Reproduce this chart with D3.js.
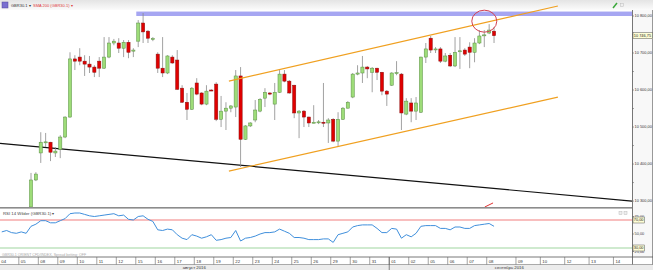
<!DOCTYPE html>
<html>
<head>
<meta charset="utf-8">
<script src="https://cdn.jsdelivr.net/npm/d3@7"></script>
<style>
  body { margin: 0; background: #fff; }
  svg { display: block; font-family: 'Liberation Sans', Arial, sans-serif; }
</style>
</head>
<body>
<svg id="chart"></svg>
<script>
// bars are [open, high, low, close]; the first visible bar sits in slot 6,
// the earlier ones are below the visible price range
const firstSlot = 6;
const candles = [
  [10284, 10376, 10276, 10357], [10357, 10378, 10354, 10373],
  [10430, 10486, 10403, 10459], [10459, 10484, 10446, 10460], [10459, 10460, 10408, 10432], [10430, 10446, 10419, 10435],
  [10440, 10478, 10416, 10473], [10473, 10529, 10470, 10527], [10527, 10702, 10525, 10684], [10684, 10694, 10654, 10678],
  [10689, 10713, 10667, 10678], [10678, 10694, 10638, 10670], [10670, 10692, 10646, 10662], [10662, 10667, 10635, 10648],
  [10678, 10689, 10635, 10659], [10659, 10743, 10657, 10689], [10689, 10743, 10686, 10727], [10727, 10738, 10721, 10732],
  [10727, 10740, 10700, 10713], [10713, 10735, 10689, 10729], [10729, 10735, 10686, 10702], [10705, 10713, 10689, 10708],
  [10732, 10789, 10716, 10781], [10781, 10808, 10727, 10757], [10759, 10762, 10727, 10740], [10737, 10743, 10732, 10739],
  [10697, 10702, 10646, 10659], [10659, 10743, 10635, 10646], [10646, 10694, 10643, 10692], [10689, 10694, 10671, 10673],
  [10681, 10708, 10600, 10602], [10605, 10613, 10565, 10567], [10567, 10592, 10519, 10548], [10548, 10608, 10546, 10605],
  [10619, 10632, 10586, 10589], [10592, 10594, 10559, 10562], [10562, 10613, 10559, 10597], [10600, 10602, 10597, 10599],
  [10616, 10621, 10516, 10521], [10521, 10584, 10500, 10543], [10543, 10567, 10492, 10551], [10551, 10559, 10540, 10557],
  [10554, 10654, 10527, 10638], [10638, 10662, 10392, 10467], [10467, 10505, 10465, 10503], [10503, 10513, 10500, 10511],
  [10519, 10573, 10513, 10546], [10543, 10578, 10540, 10575], [10578, 10605, 10554, 10594], [10592, 10594, 10586, 10589],
  [10562, 10619, 10519, 10594], [10594, 10654, 10592, 10643], [10643, 10654, 10621, 10624], [10624, 10627, 10590, 10592],
  [10613, 10614, 10524, 10538], [10538, 10546, 10470, 10543], [10543, 10546, 10500, 10527], [10527, 10528, 10500, 10511],
  [10512, 10559, 10510, 10513], [10513, 10519, 10508, 10514], [10513, 10619, 10500, 10511], [10511, 10524, 10457, 10519],
  [10521, 10524, 10459, 10462], [10462, 10540, 10446, 10521], [10521, 10554, 10519, 10551], [10551, 10570, 10550, 10567],
  [10581, 10646, 10578, 10643], [10643, 10667, 10640, 10646], [10646, 10692, 10619, 10662], [10662, 10665, 10632, 10657],
  [10648, 10662, 10594, 10659], [10659, 10660, 10627, 10648], [10648, 10649, 10586, 10597], [10597, 10600, 10557, 10589],
  [10613, 10648, 10611, 10646], [10645, 10678, 10640, 10647], [10643, 10646, 10492, 10538], [10535, 10578, 10532, 10570],
  [10565, 10578, 10513, 10543], [10543, 10581, 10519, 10565], [10540, 10690, 10538, 10689], [10689, 10727, 10673, 10711],
  [10740, 10746, 10700, 10708], [10710, 10716, 10700, 10711], [10711, 10716, 10673, 10678], [10678, 10700, 10675, 10692],
  [10694, 10700, 10662, 10665], [10665, 10743, 10662, 10702], [10704, 10743, 10657, 10706], [10708, 10713, 10692, 10697],
  [10716, 10729, 10659, 10702], [10702, 10740, 10675, 10727], [10727, 10762, 10724, 10746], [10747, 10762, 10716, 10749],
  [10754, 10778, 10751, 10762], [10759, 10770, 10727, 10746.75]
];

// RSI 14 Wilder, one value per slot starting at slot 0
const rsiValues = [
  53, 55, 52, 51, 53, 51, 61, 64, 69, 69, 66, 66, 69, 72, 79, 80, 80, 78, 76, 75,
  76, 77, 78, 79, 76, 77, 71, 70, 75, 76, 71, 68, 56, 55, 57, 56, 49, 44, 42, 49,
  47, 44, 46, 49, 41, 42, 44, 45, 55, 40, 44, 45, 47, 50, 52, 52, 53, 57, 54, 51,
  45, 45, 44, 42, 42, 42, 43, 43, 38, 49, 51, 53, 60, 62, 63, 63, 63, 58, 52, 52,
  58, 57, 44, 49, 46, 51, 61, 62, 62, 62, 58, 58, 56, 60, 60, 58, 58, 62, 63, 64,
  65, 61
];

// one trading day = 4 slots
const dayLabels = ['04', '05', '08', '09', '10', '11', '12', '15', '16', '17', '18', '19', '22',
  '23', '24', '25', '26', '29', '30', '31', '01', '02', '05', '06', '07', '08'];
const futureLabels = ['09', '10', '12', '13', '14'];
const futureSlots = [106, 111, 116, 121, 126];
const months = [
  { label: 'август 2016', from: 0, to: 80 },
  { label: 'сентябрь 2016', from: 80, to: 129.3 }
];

const priceTicks = [10300, 10400, 10500, 10600, 10700, 10800];
const rsiTicks = [25, 50, 75];
const rsiLevels = [70, 30];
const lastPrice = 10746.75;

// drawn objects: [slot, price]
const resistanceBand = { fromSlot: 27.6, low: 10800, high: 10812 };
const upperChannel = [[46.6, 10624], [114.1, 10827]];
const lowerChannel = [[46.6, 10381], [114.1, 10581]];
const longTrend = [[-0.36, 10456], [129.3, 10300]];
const smaTail = [[99.1, 10284], [100.8, 10295]];
const circleMark = { slot: 99, price: 10786 };

const width = 653, height = 270;
const plotRight = 632;
const mainBottom = 207;
const rsiTop = 208, rsiBottom = 257;
const axisTop = 257, axisMid = 264.5;

var svg = d3.select('#chart').attr('width', width).attr('height', height);

var x = d3.scaleLinear().domain([0, 100]).range([1.76, 1.76 + 487.4]);
var pitch = x(1) - x(0);
var y = d3.scaleLinear().domain([10284, 10843.2]).range([mainBottom, 0]);
var ry = d3.scaleLinear().domain([30, 70]).range([248, 220]);

var fmtLocale = d3.formatLocale({ decimal: ',', thousands: ' ', grouping: [3], currency: ['', ''] });
var fmt = fmtLocale.format(',.2f');

var defs = svg.append('defs');
var grad = defs.append('linearGradient').attr('id', 'bar').attr('x1', 0).attr('y1', 0).attr('x2', 0).attr('y2', 1);
grad.append('stop').attr('offset', '0%').attr('stop-color', '#e4e4e4');
grad.append('stop').attr('offset', '100%').attr('stop-color', '#fbfbfb');
defs.append('clipPath').attr('id', 'mainClip').append('rect')
  .attr('x', 0).attr('y', 0).attr('width', plotRight).attr('height', mainBottom);
defs.append('clipPath').attr('id', 'rsiClip').append('rect')
  .attr('x', 0).attr('y', rsiTop).attr('width', plotRight).attr('height', rsiBottom - rsiTop);

svg.append('rect').attr('width', width).attr('height', height).attr('fill', '#fff');

// top toolbar
svg.append('rect').attr('x', 0).attr('y', 0).attr('width', width).attr('height', 10).attr('fill', 'url(#bar)');
svg.append('rect').attr('x', 2).attr('y', 2).attr('width', 6).attr('height', 6)
  .attr('fill', '#7a6fd0').attr('stroke', '#554a9a').attr('stroke-width', 0.5);
svg.append('text').attr('x', 11).attr('y', 7).attr('font-size', 4).attr('fill', '#333').text('GBR30.1 ▾');
svg.append('text').attr('x', 33).attr('y', 7).attr('font-size', 4).attr('fill', '#e03a3a').text('SMA 200 (GBR30.1) ▾');
svg.append('line').attr('x1', 613).attr('y1', 8).attr('x2', 617).attr('y2', 3)
  .attr('stroke', '#3aa83a').attr('stroke-width', 1.5);
svg.append('rect').attr('x', 620.5).attr('y', 3.5).attr('width', 3).attr('height', 3)
  .attr('fill', '#eee').attr('stroke', '#bbb').attr('stroke-width', 0.5);

var main = svg.append('g').attr('clip-path', 'url(#mainClip)');

// resistance band
main.append('rect')
  .attr('x', x(resistanceBand.fromSlot))
  .attr('y', y(resistanceBand.high))
  .attr('width', plotRight - x(resistanceBand.fromSlot))
  .attr('height', y(resistanceBand.low) - y(resistanceBand.high))
  .attr('fill', '#a6a6f2');

function drawLine(g, pts, color, w) {
  g.append('line')
    .attr('x1', x(pts[0][0])).attr('y1', y(pts[0][1]))
    .attr('x2', x(pts[1][0])).attr('y2', y(pts[1][1]))
    .attr('stroke', color).attr('stroke-width', w);
}

drawLine(main, longTrend, '#111', 1.2);

var bars = main.append('g').selectAll('g').data(candles).enter().append('g');
bars.append('line')
  .attr('x1', function (d, i) { return x(i + firstSlot); })
  .attr('x2', function (d, i) { return x(i + firstSlot); })
  .attr('y1', function (d) { return y(d[1]); })
  .attr('y2', function (d) { return y(d[2]); })
  .attr('stroke', '#8a8a8a').attr('stroke-width', 0.8);
bars.append('rect')
  .attr('x', function (d, i) { return x(i + firstSlot) - 1.6; })
  .attr('width', 3.2)
  .attr('y', function (d) { return y(Math.max(d[0], d[3])); })
  .attr('height', function (d) { return Math.max(1, Math.abs(y(d[0]) - y(d[3]))); })
  .attr('fill', function (d) { return d[3] >= d[0] ? '#9ddc78' : '#e00000'; })
  .attr('stroke', function (d) { return d[3] >= d[0] ? '#5b8f45' : '#8a1010'; })
  .attr('stroke-width', 0.5);

drawLine(main, upperChannel, '#f0a020', 1.2);
drawLine(main, lowerChannel, '#f0a020', 1.2);
drawLine(main, smaTail, '#e03030', 1);

main.append('ellipse')
  .attr('cx', x(circleMark.slot)).attr('cy', y(circleMark.price))
  .attr('rx', 12.5).attr('ry', 11)
  .attr('fill', 'none').attr('stroke', '#d44050').attr('stroke-width', 1);

// panel separator
svg.append('rect').attr('x', 0).attr('y', mainBottom).attr('width', width).attr('height', 1.6).attr('fill', '#8c8c8c');

// RSI panel
var rsi = svg.append('g');
rsi.append('line').attr('x1', 0).attr('x2', plotRight).attr('y1', ry(70)).attr('y2', ry(70))
  .attr('stroke', '#f6a8a8').attr('stroke-width', 1.5);
rsi.append('line').attr('x1', 0).attr('x2', plotRight).attr('y1', ry(30)).attr('y2', ry(30))
  .attr('stroke', '#bfe3bf').attr('stroke-width', 1.5);
rsi.append('path')
  .datum(rsiValues)
  .attr('clip-path', 'url(#rsiClip)')
  .attr('d', d3.line().x(function (d, i) { return x(i); }).y(function (d) { return ry(d); }))
  .attr('fill', 'none').attr('stroke', '#3f8fdc').attr('stroke-width', 1);
rsi.append('text').attr('x', 3).attr('y', 214.5).attr('font-size', 4.3).attr('fill', '#444')
  .text('RSI 14 Wilder (GBR30.1) ▾');
rsi.append('text').attr('x', 2).attr('y', 255.5).attr('font-size', 3.6).attr('fill', '#aaa')
  .text('GBR30.1 ORIENT CFD/INDEX, Spread betting: OFF');
[619, 624].forEach(function (px) {
  rsi.append('rect').attr('x', px).attr('y', 211.5).attr('width', 3).attr('height', 3)
    .attr('fill', '#eee').attr('stroke', '#bbb').attr('stroke-width', 0.5);
});

// right price axis
var axisG = svg.append('g');
axisG.append('rect').attr('x', plotRight).attr('y', 10).attr('width', width - plotRight).attr('height', axisTop - 10)
  .attr('fill', '#f8f8f8');
axisG.append('line').attr('x1', plotRight + 0.5).attr('x2', plotRight + 0.5).attr('y1', 10).attr('y2', height)
  .attr('stroke', '#777').attr('stroke-width', 1);
axisG.append('line').attr('x1', width - 0.5).attr('x2', width - 0.5).attr('y1', 10).attr('y2', height)
  .attr('stroke', '#999').attr('stroke-width', 1);

var minorTicks = d3.range(10250, 10851, 50);
axisG.selectAll('line.minor').data(minorTicks).enter().append('line')
  .attr('class', 'minor')
  .attr('x1', plotRight).attr('x2', plotRight + 2)
  .attr('y1', function (d) { return y(d); }).attr('y2', function (d) { return y(d); })
  .attr('stroke', '#666').attr('stroke-width', 0.6)
  .style('display', function (d) { return y(d) < 10 || y(d) > mainBottom ? 'none' : null; });
axisG.selectAll('text.price').data(priceTicks).enter().append('text')
  .attr('class', 'price')
  .attr('x', plotRight + 2.5).attr('y', function (d) { return y(d) + 1.4; })
  .attr('font-size', 3.9).attr('fill', '#333')
  .text(function (d) { return fmt(d); });

axisG.append('rect').attr('x', plotRight + 1).attr('y', y(lastPrice) - 3).attr('width', 19.5).attr('height', 6)
  .attr('fill', '#ffffd6').attr('stroke', '#555').attr('stroke-width', 0.5);
axisG.append('text').attr('x', plotRight + 1.8).attr('y', y(lastPrice) + 1.4)
  .attr('font-size', 3.9).attr('fill', '#222').text(fmt(lastPrice));

axisG.selectAll('line.rsitick').data(rsiTicks).enter().append('line')
  .attr('class', 'rsitick')
  .attr('x1', plotRight).attr('x2', plotRight + 2)
  .attr('y1', function (d) { return ry(d); }).attr('y2', function (d) { return ry(d); })
  .attr('stroke', '#666').attr('stroke-width', 0.6);
axisG.selectAll('text.rsi').data(rsiTicks).enter().append('text')
  .attr('class', 'rsi')
  .attr('x', plotRight + 2.5).attr('y', function (d) { return ry(d) + 1.4; })
  .attr('font-size', 3.9).attr('fill', '#444')
  .text(function (d) { return fmt(d); });
rsiLevels.forEach(function (lv) {
  axisG.append('rect').attr('x', plotRight + 1).attr('y', ry(lv) - 3).attr('width', 11.5).attr('height', 6)
    .attr('fill', '#ffffd6').attr('stroke', '#555').attr('stroke-width', 0.5);
  axisG.append('text').attr('x', plotRight + 1.8).attr('y', ry(lv) + 1.4)
    .attr('font-size', 3.9).attr('fill', '#222').text(fmt(lv));
});

// date axis
var dateG = svg.append('g');
dateG.append('rect').attr('x', 0).attr('y', axisTop).attr('width', plotRight).attr('height', axisMid - axisTop)
  .attr('fill', '#fff');
dateG.append('rect').attr('x', 0).attr('y', axisMid).attr('width', width).attr('height', height - axisMid)
  .attr('fill', '#ececec');
dateG.append('line').attr('x1', 0).attr('x2', width).attr('y1', axisTop).attr('y2', axisTop)
  .attr('stroke', '#555').attr('stroke-width', 0.8);
dateG.append('line').attr('x1', 0).attr('x2', width).attr('y1', axisMid).attr('y2', axisMid)
  .attr('stroke', '#777').attr('stroke-width', 0.6);

var dateTicks = dayLabels.map(function (t, k) { return { label: t, slot: 4 * k }; })
  .concat(futureLabels.map(function (t, k) { return { label: t, slot: futureSlots[k] }; }));

dateG.selectAll('line.day').data(dateTicks).enter().append('line')
  .attr('class', 'day')
  .attr('x1', function (d) { return x(d.slot) - pitch / 2; })
  .attr('x2', function (d) { return x(d.slot) - pitch / 2; })
  .attr('y1', axisTop).attr('y2', axisMid)
  .attr('stroke', '#666').attr('stroke-width', 0.6);
dateG.selectAll('text.day').data(dateTicks).enter().append('text')
  .attr('class', 'day')
  .attr('x', function (d) { return x(d.slot) - pitch / 2 + 2; })
  .attr('y', 262.6)
  .attr('font-size', 4.3).attr('fill', '#333')
  .text(function (d) { return d.label; });

dateG.append('line')
  .attr('x1', x(80) - pitch / 2).attr('x2', x(80) - pitch / 2)
  .attr('y1', axisTop).attr('y2', height)
  .attr('stroke', '#555').attr('stroke-width', 0.7);
dateG.selectAll('text.month').data(months).enter().append('text')
  .attr('class', 'month')
  .attr('x', function (d) { return (x(d.from) + Math.min(plotRight, x(d.to))) / 2 - pitch / 2; })
  .attr('y', 268.8)
  .attr('text-anchor', 'middle')
  .attr('font-size', 4.3).attr('fill', '#333')
  .text(function (d) { return d.label; });
</script>
</body>
</html>
